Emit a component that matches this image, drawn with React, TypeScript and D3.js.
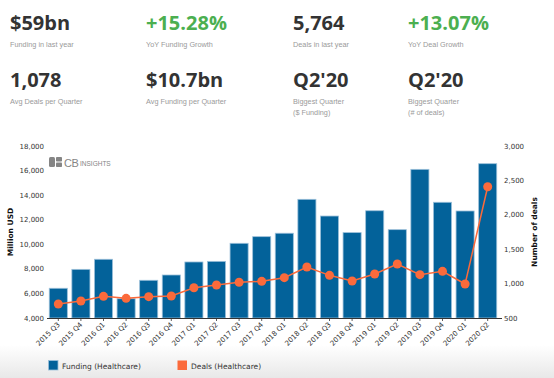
import React from "react";
import * as d3 from "d3";

const quarters = ["2015 Q3","2015 Q4","2016 Q1","2016 Q2","2016 Q3","2016 Q4","2017 Q1","2017 Q2","2017 Q3","2017 Q4","2018 Q1","2018 Q2","2018 Q3","2018 Q4","2019 Q1","2019 Q2","2019 Q3","2019 Q4","2020 Q1","2020 Q2"];
const funding = [6420,7960,8780,5570,7070,7500,8560,8610,10080,10620,10900,13660,12300,10950,12730,11190,16100,13420,12710,16560];
const deals = [703,747,815,786,810,820,940,980,1019,1033,1086,1241,1120,1038,1139,1285,1130,1178,994,2408];
const leftTicks = [4000,6000,8000,10000,12000,14000,16000,18000];
const rightTicks = [500,1000,1500,2000,2500,3000];

const statsRow1 = [
  { value: "$59bn", label: ["Funding in last year"], green: false },
  { value: "+15.28%", label: ["YoY Funding Growth"], green: true },
  { value: "5,764", label: ["Deals in last year"], green: false },
  { value: "+13.07%", label: ["YoY Deal Growth"], green: true },
];
const statsRow2 = [
  { value: "1,078", label: ["Avg Deals per Quarter"], green: false },
  { value: "$10.7bn", label: ["Avg Funding per Quarter"], green: false },
  { value: "Q2'20", label: ["Biggest Quarter", "($ Funding)"], green: false },
  { value: "Q2'20", label: ["Biggest Quarter", "(# of deals)"], green: false },
];
const colX = [10, 146, 293, 408];

export default function App() {
  const W = 554, H = 378;
  const x0 = 47, x1 = 499, yTop = 146, yBot = 318;
  const x = d3.scaleBand<string>().domain(quarters).range([x0, x1]).paddingInner(0.2).paddingOuter(0.1);
  const yL = d3.scaleLinear().domain([4000, 18000]).range([yBot, yTop]);
  const yR = d3.scaleLinear().domain([500, 3000]).range([yBot, yTop]);
  const cx = (q: string) => (x(q) as number) + x.bandwidth() / 2;
  const line = d3.line<number>().x((_, i) => cx(quarters[i])).y((d) => yR(d));
  const tickFont = "DejaVu Sans, Verdana, sans-serif";
  const blue = "#03629a";
  const orange = "#fb6a3b";

  const renderStats = (row: typeof statsRow1, baseY: number) =>
    row.map((s, i) => (
      <g key={i} transform={`translate(${colX[i]},${baseY})`}>
        <text x={0} y={0} fontFamily="Open Sans, sans-serif" fontWeight={700} fontSize={20} fill={s.green ? "#4caf50" : "#333"}>{s.value}</text>
        {s.label.map((l, j) => (
          <text key={j} x={0} y={17 + j * 11} fontFamily="Liberation Sans, Arial, sans-serif" fontSize={7.3} fill="#9a9a9a">{l}</text>
        ))}
      </g>
    ));

  return (
    <svg width={W} height={H} style={{ position: "absolute", left: 0, top: 0, background: "#fff" }}>
      <defs>
        <linearGradient id="shade" x1="0" y1="0" x2="0" y2="1">
          <stop offset="0" stopColor="#ffffff" />
          <stop offset="1" stopColor="#e8e8e8" />
        </linearGradient>
      </defs>
      <rect x={0} y={0} width={W} height={H} fill="#fff" />
      <rect x={0} y={345} width={W} height={33} fill="url(#shade)" />

      {renderStats(statsRow1, 30)}
      {renderStats(statsRow2, 87)}

      {/* logo */}
      <g transform="translate(49,157)" fill="#858585">
        <rect x={0} y={0} width={6} height={10} rx={1.5} />
        <rect x={7} y={0} width={6} height={4.5} rx={0.8} />
        <rect x={7} y={5.5} width={6} height={4.5} rx={0.8} />
        <text x={15} y={9.5} fontFamily="Liberation Sans, Arial, sans-serif" fontSize={11} fill="#858585" letterSpacing={-0.5}>CB</text>
        <text x={31} y={9} fontFamily="Liberation Sans, Arial, sans-serif" fontSize={6.5} fill="#858585">INSIGHTS</text>
      </g>

      {/* left axis ticks */}
      {leftTicks.map((t) => (
        <text key={t} x={44} y={yL(t) + 2.5} textAnchor="end" fontFamily={tickFont} fontSize={7} fill="#333">{d3.format(",")(t)}</text>
      ))}
      {rightTicks.map((t) => (
        <text key={t} x={504} y={yR(t) + 2.5} textAnchor="start" fontFamily={tickFont} fontSize={7} fill="#333">{d3.format(",")(t)}</text>
      ))}
      <text transform={`translate(13,232) rotate(-90)`} textAnchor="middle" fontFamily={tickFont} fontWeight={700} fontSize={7.5} fill="#111">Million USD</text>
      <text transform={`translate(537,232) rotate(-90)`} textAnchor="middle" fontFamily={tickFont} fontWeight={700} fontSize={7.5} fill="#111">Number of deals</text>

      {/* bars */}
      {funding.map((v, i) => (
        <rect key={i} x={x(quarters[i])} y={yL(v)} width={x.bandwidth()} height={yBot - yL(v)} fill={blue} stroke="#9cc0da" strokeWidth={0.8} />
      ))}

      {/* x axis */}
      <line x1={x0} x2={x1 + 3} y1={yBot + 0.5} y2={yBot + 0.5} stroke="#333" strokeWidth={1} />
      {quarters.map((q) => (
        <g key={q}>
          <line x1={cx(q)} x2={cx(q)} y1={yBot} y2={yBot + 3} stroke="#333" strokeWidth={0.8} />
          <text transform={`translate(${cx(q) + 2},${yBot + 7}) rotate(-45)`} textAnchor="end" fontFamily={tickFont} fontSize={7} fill="#333">{q}</text>
        </g>
      ))}

      {/* deals line */}
      <path d={line(deals) as string} fill="none" stroke={orange} strokeWidth={1.5} />
      {deals.map((v, i) => (
        <circle key={i} cx={cx(quarters[i])} cy={yR(v)} r={4.5} fill={orange} />
      ))}

      {/* legend */}
      <rect x={48.5} y={360.5} width={9.5} height={9.5} fill={blue} stroke="#9cc0da" strokeWidth={0.8} />
      <text x={62} y={368.5} fontFamily={tickFont} fontSize={7.5} fill="#333">Funding (Healthcare)</text>
      <rect x={177.5} y={360.5} width={9.5} height={9.5} fill={orange} />
      <text x={191} y={368.5} fontFamily={tickFont} fontSize={7.5} fill="#333">Deals (Healthcare)</text>
    </svg>
  );
}
